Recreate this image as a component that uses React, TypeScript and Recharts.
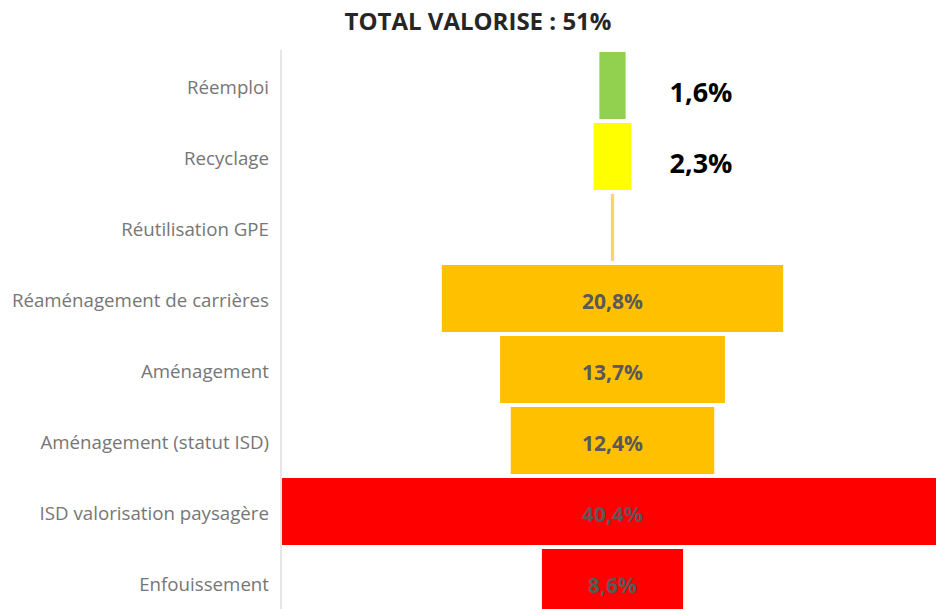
import { BarChart, Bar, XAxis, YAxis, Cell, LabelList } from 'recharts';

const categories = [
  'Réemploi',
  'Recyclage',
  'Réutilisation GPE',
  'Réaménagement de carrières',
  'Aménagement',
  'Aménagement (statut ISD)',
  'ISD valorisation paysagère',
  'Enfouissement',
];
const shares = [1.6, 2.3, 0.2, 20.8, 13.7, 12.4, 40.4, 8.6];
const colors = ['#92D050', '#FFFF00', '#FFD36B', '#FFC000', '#FFC000', '#FFC000', '#FF0000', '#FF0000'];
// which bars get their label outside (to the right) / none
const labelPlace = ['out', 'out', 'none', 'in', 'in', 'in', 'in', 'in'];
const totalLabel = 'TOTAL VALORISE : 51%';

const maxShare = Math.max(...shares);

const data = categories.map((name, i) => ({
  name,
  value: shares[i],
  pad: (maxShare - shares[i]) / 2,
}));

const fmt = (v: number) => `${v.toFixed(1).replace('.', ',')}%`;

function ValueLabel(props: any) {
  const { x, y, width, height, index } = props;
  const place = labelPlace[index];
  if (place === 'none') return null;
  const cx = x + width / 2;
  const cy = y + height / 2;
  if (place === 'out') {
    return (
      <text
        x={cx + 57}
        y={cy + 6}
        textAnchor="start"
        dominantBaseline="central"
        fontFamily="Open Sans"
        fontWeight="bold"
        fontSize={27}
        fill="#000000"
      >
        {fmt(shares[index])}
      </text>
    );
  }
  return (
    <text
      x={cx}
      y={cy + 2}
      textAnchor="middle"
      dominantBaseline="central"
      fontFamily="Open Sans"
      fontWeight="bold"
      fontSize={21}
      fill="#595959"
    >
      {fmt(shares[index])}
    </text>
  );
}

export default function App() {
  return (
    <div style={{ position: 'absolute', left: 0, top: 0, width: 936, height: 609, overflow: 'hidden', background: '#fff' }}>
      <div
        style={{
          position: 'absolute',
          left: 0,
          top: 4,
          width: 956,
          textAlign: 'center',
          fontFamily: 'Open Sans',
          fontWeight: 'bold',
          fontSize: 24,
          letterSpacing: 0,
          color: '#262626',
        }}
      >
        {totalLabel}
      </div>
      <BarChart
        width={944}
        height={618}
        data={data}
        layout="vertical"
        margin={{ top: 50, right: 0, bottom: 0, left: 0 }}
        barSize={67}
      >
        <XAxis type="number" hide domain={[0, maxShare]} />
        <YAxis
          type="category"
          dataKey="name"
          width={281}
          axisLine={{ stroke: '#e6e6e6', strokeWidth: 2 }}
          tickLine={false}
          tickSize={0}
          tickMargin={12}
          interval={0}
          tick={{ fill: '#767676', fontSize: 18.7, fontFamily: 'Open Sans', dy: 2 }}
        />
        <Bar dataKey="pad" stackId="f" fill="transparent" isAnimationActive={false} />
        <Bar dataKey="value" stackId="f" isAnimationActive={false}>
          {data.map((d, i) => (
            <Cell key={d.name} fill={colors[i]} />
          ))}
          <LabelList dataKey="value" content={ValueLabel} />
        </Bar>
      </BarChart>
    </div>
  );
}
